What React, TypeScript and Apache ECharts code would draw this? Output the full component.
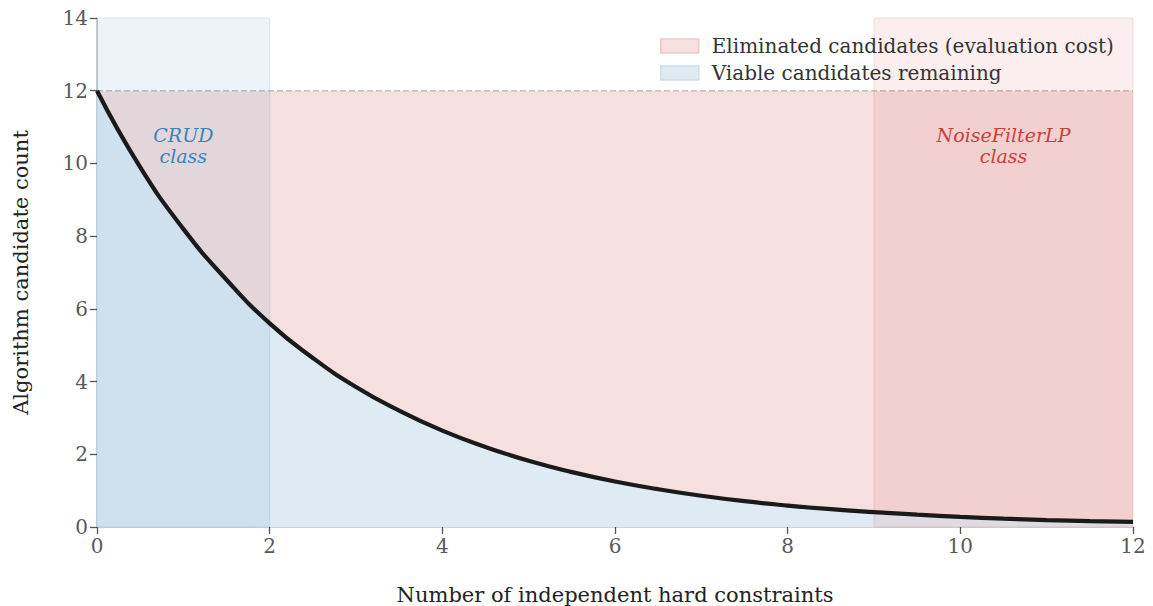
import React, { useEffect, useRef } from "react";
import * as echarts from "echarts";

const constraintCounts = [0, 0.5, 1, 1.5, 2, 2.5, 3, 3.5, 4, 4.5, 5, 5.5, 6, 6.5, 7, 7.5, 8, 8.5, 9, 9.5, 10, 10.5, 11, 11.5, 12];
const viableCandidates = [12.0, 9.9, 8.2, 6.8, 5.6, 4.65, 3.85, 3.2, 2.65, 2.2, 1.82, 1.51, 1.25, 1.04, 0.86, 0.71, 0.59, 0.49, 0.41, 0.34, 0.28, 0.23, 0.19, 0.16, 0.14];
const totalCandidates = 12;
const crudSpan = [0, 2];
const noiseSpan = [9, 12];
const yMax = 14;
const xTicks = { min: 0, max: 12, interval: 2 };
const yTicks = { min: 0, max: 14, interval: 2 };
const legendNames = ["Eliminated candidates (evaluation cost)", "Viable candidates remaining"];
const annotations = [
  { text: "CRUD\nclass", at: [1, 10.5], color: "#3585bf" },
  { text: "NoiseFilterLP\nclass", at: [10.5, 10.5], color: "#c9403a" },
];

const FONT = "DejaVu Serif";

export default function App() {
  const ref = useRef<HTMLDivElement>(null);
  useEffect(() => {
    if (!ref.current) return;
    const chart = echarts.init(ref.current, null, { renderer: "svg" });
    const curve = constraintCounts.map((x, i) => [x, viableCandidates[i]]);
    const ceiling = constraintCounts.map((x) => [x, totalCandidates]);
    const axisCommon = {
      axisLine: { show: true, lineStyle: { color: "#c4c4c4", width: 1.5 } },
      axisTick: { show: true, length: 7, lineStyle: { color: "#555", width: 1.3 } },
      axisLabel: { color: "#5a5a5a", fontFamily: FONT, fontSize: 20, margin: 9 },
      splitLine: { show: false },
      nameTextStyle: { color: "#222", fontFamily: FONT, fontSize: 21 },
    };
    chart.setOption({
      animation: false,
      backgroundColor: "#ffffff",
      grid: { left: 97, right: 20, top: 18, bottom: 79, containLabel: false, outerBoundsMode: "none" },
      legend: {
        left: 655,
        top: 30,
        orient: "vertical",
        itemWidth: 38,
        itemHeight: 14,
        itemGap: 5,
        selectedMode: false,
        textStyle: { fontFamily: FONT, fontSize: 20, color: "#333", padding: [0, 0, 0, 8], lineHeight: 22 },
        data: [
          { name: legendNames[0], icon: "rect", itemStyle: { color: "#f5dfdf", borderColor: "#ecc9c9", borderWidth: 1.5 } },
          { name: legendNames[1], icon: "rect", itemStyle: { color: "#dfebf3", borderColor: "#cadeeb", borderWidth: 1.5 } },
        ],
      },
      xAxis: {
        type: "value",
        ...xTicks,
        ...axisCommon,
        name: "Number of independent hard constraints",
        nameLocation: "middle",
        nameGap: 57,
      },
      yAxis: {
        type: "value",
        ...yTicks,
        ...axisCommon,
        name: "Algorithm candidate count",
        nameLocation: "middle",
        nameGap: 66,
      },
      series: [
        {
          name: legendNames[0],
          type: "line",
          data: ceiling,
          symbol: "none",
          z: 1,
          lineStyle: { color: "rgba(160,160,160,0.6)", width: 1.5, type: [6, 3] },
          itemStyle: { color: "#f5dfdf" },
          areaStyle: { color: "#f5dfdf", opacity: 1 },
        },
        {
          name: legendNames[1],
          type: "line",
          data: curve,
          smooth: 0.5,
          symbol: "none",
          z: 2,
          lineStyle: { width: 0, color: "#dfebf3" },
          itemStyle: { color: "#dfebf3" },
          areaStyle: { color: "#dfebf3", opacity: 1 },
        },
        {
          name: "spans",
          type: "line",
          data: [],
          z: 3,
          markArea: {
            silent: true,
            z: 3,
            data: [
              [
                { xAxis: crudSpan[0], yAxis: 0, itemStyle: { color: "rgba(31,119,180,0.08)", borderColor: "rgba(31,119,180,0.1)", borderWidth: 1.5 } },
                { xAxis: crudSpan[1], yAxis: yMax },
              ],
              [
                { xAxis: noiseSpan[0], yAxis: 0, itemStyle: { color: "rgba(214,39,40,0.08)", borderColor: "rgba(214,39,40,0.1)", borderWidth: 1.5 } },
                { xAxis: noiseSpan[1], yAxis: yMax },
              ],
            ],
          },
        },
        {
          name: "curve",
          type: "line",
          data: curve,
          smooth: 0.5,
          symbol: "none",
          z: 4,
          lineStyle: { color: "#1a1a1a", width: 4.2 },
          markPoint: {
            symbol: "circle",
            symbolSize: 0,
            silent: true,
            z: 5,
            data: annotations.map((a) => ({
              coord: a.at,
              label: {
                show: true,
                position: "inside",
                formatter: a.text,
                color: a.color,
                fontFamily: FONT,
                fontStyle: "italic",
                fontSize: 19,
                lineHeight: 21,
                align: "center",
              },
            })),
          },
        },
      ],
    });
    return () => chart.dispose();
  }, []);
  return <div ref={ref} style={{ position: "fixed", left: 0, top: 0, width: 1153, height: 606 }} />;
}
